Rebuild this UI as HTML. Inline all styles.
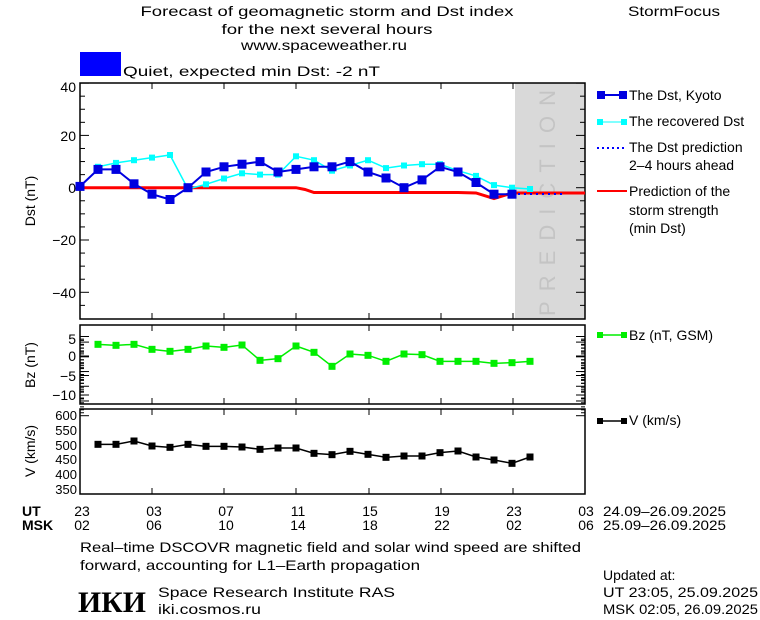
<!DOCTYPE html>
<html><head><meta charset="utf-8">
<style>
html,body{margin:0;padding:0;background:#fff;}
svg{display:block;}
text{font-family:"Liberation Sans","DejaVu Sans",sans-serif;font-size:14px;fill:#000;}
.s{font-size:13px;}
</style></head>
<body>
<svg id="c" width="760" height="620" viewBox="0 0 760 620" xmlns="http://www.w3.org/2000/svg">
<text x="327" y="16" text-anchor="middle" textLength="373" lengthAdjust="spacingAndGlyphs">Forecast of geomagnetic storm and Dst index</text>
<text x="327" y="34" text-anchor="middle" textLength="211" lengthAdjust="spacingAndGlyphs">for the next several hours</text>
<text x="324" y="50" text-anchor="middle" textLength="166" lengthAdjust="spacingAndGlyphs">www.spaceweather.ru</text>
<text x="628" y="16" textLength="92" lengthAdjust="spacingAndGlyphs">StormFocus</text>
<rect x="80" y="52" width="41" height="24" fill="#0000ff"/>
<text x="123" y="76" textLength="257" lengthAdjust="spacingAndGlyphs">Quiet, expected min Dst: -2 nT</text>

<!-- prediction region -->
<rect x="515" y="83" width="70" height="236" fill="#d9d9d9"/>
<text transform="translate(555,316) rotate(-90)" textLength="232" lengthAdjust="spacing" style="font-size:22px;fill:#c4c4c4;letter-spacing:6px">PREDICTION</text>

<g id="axes" stroke="#000" stroke-width="1.5" fill="none">
<rect x="80" y="83" width="505" height="236"/>
<rect x="80" y="325" width="505" height="79"/>
<rect x="80" y="409" width="505" height="85"/>
</g>
<g id="ticks" stroke="#000" stroke-width="1"></g>

<!-- Dst labels -->
<text x="76" y="92" text-anchor="end">40</text>
<text x="76" y="141" text-anchor="end">20</text>
<text x="76" y="193" text-anchor="end">0</text>
<text x="76" y="245" text-anchor="end">−20</text>
<text x="76" y="298" text-anchor="end">−40</text>
<text transform="translate(35,201) rotate(-90)" text-anchor="middle">Dst (nT)</text>
<!-- Bz labels -->
<text x="76" y="344" text-anchor="end">5</text>
<text x="76" y="361" text-anchor="end">0</text>
<text x="76" y="381" text-anchor="end">−5</text>
<text x="76" y="400" text-anchor="end">−10</text>
<text transform="translate(35,365) rotate(-90)" text-anchor="middle">Bz (nT)</text>
<!-- V labels -->
<text class="s" x="77" y="420" text-anchor="end">600</text>
<text class="s" x="77" y="435" text-anchor="end">550</text>
<text class="s" x="77" y="450" text-anchor="end">500</text>
<text class="s" x="77" y="464" text-anchor="end">450</text>
<text class="s" x="77" y="479" text-anchor="end">400</text>
<text class="s" x="77" y="494" text-anchor="end">350</text>
<text transform="translate(35,451) rotate(-90)" text-anchor="middle">V (km/s)</text>

<!-- series top -->
<polyline fill="none" stroke="#ff0000" stroke-width="3" points="80,187.7 296,187.7 305,189.5 314,192.5 458,192.5 476,193 494,198.5 512,193 585,193"/>
<polyline id="cy" fill="none" stroke="#00ffff" stroke-width="1.5" points="98,166.8 116,162.9 134,160.2 152,157.6 170,155 188,189 206,184.3 224,178.5 242,173.3 260,174.6 278,174.6 296,156.3 314,160.2 332,170.7 350,165.5 368,160.2 386,168.1 404,165.5 422,164.2 440,164.2 458,170.7 476,175.9 494,185.1 512,187.7 530,189"/>
<line x1="512" y1="194" x2="565" y2="194" stroke="#0000ff" stroke-width="2" stroke-dasharray="2,4"/>
<polyline id="db" fill="none" stroke="#0000e0" stroke-width="2" points="80,186.4 98,169.4 116,169.4 134,183.8 152,194.2 170,199.5 188,187.7 206,172 224,166.8 242,164.2 260,161.6 278,172 296,169.4 314,166.8 332,166.8 350,161.6 368,172 386,178 404,187.7 422,179.9 440,166.8 458,172 476,182.5 494,194.2 512,194.2"/>
<polyline id="bz" fill="none" stroke="#00ee00" stroke-width="1.5" points=""/>
<polyline id="vv" fill="none" stroke="#000" stroke-width="1.5" points=""/>
<g id="marks"></g>

<!-- legend -->
<line x1="597" y1="95" x2="627" y2="95" stroke="#0000e0" stroke-width="2"/>
<rect x="597" y="91" width="8" height="8" fill="#0000e0"/><rect x="619" y="91" width="8" height="8" fill="#0000e0"/>
<text x="629" y="100">The Dst, Kyoto</text>
<line x1="597" y1="122" x2="627" y2="122" stroke="#00ffff" stroke-width="1"/>
<rect x="597" y="119" width="6" height="6" fill="#00ffff"/><rect x="621" y="119" width="6" height="6" fill="#00ffff"/>
<text x="629" y="126">The recovered Dst</text>
<line x1="597" y1="148" x2="627" y2="148" stroke="#0000ff" stroke-width="2" stroke-dasharray="2,3"/>
<text x="629" y="152">The Dst prediction</text>
<text x="629" y="170">2–4 hours ahead</text>
<line x1="597" y1="191" x2="627" y2="191" stroke="#ff0000" stroke-width="2"/>
<text x="629" y="196">Prediction of the</text>
<text x="629" y="215">storm strength</text>
<text x="629" y="233">(min Dst)</text>
<line x1="597" y1="335" x2="627" y2="335" stroke="#00ee00" stroke-width="1.5"/>
<rect x="597" y="332" width="6" height="6" fill="#00ee00"/><rect x="621" y="332" width="6" height="6" fill="#00ee00"/>
<text x="629" y="340">Bz (nT, GSM)</text>
<line x1="597" y1="421" x2="627" y2="421" stroke="#000" stroke-width="1.5"/>
<rect x="597" y="418" width="6" height="6" fill="#000"/><rect x="621" y="418" width="6" height="6" fill="#000"/>
<text x="629" y="425">V (km/s)</text>

<!-- time axis -->
<text x="22" y="516" style="font-weight:bold">UT</text>
<text x="22" y="530" style="font-weight:bold">MSK</text>
<g text-anchor="middle">
<text x="82" y="516">23</text><text x="154" y="516">03</text><text x="226" y="516">07</text><text x="298" y="516">11</text><text x="370" y="516">15</text><text x="442" y="516">19</text><text x="514" y="516">23</text><text x="586" y="516">03</text>
<text x="82" y="530">02</text><text x="154" y="530">06</text><text x="226" y="530">10</text><text x="298" y="530">14</text><text x="370" y="530">18</text><text x="442" y="530">22</text><text x="514" y="530">02</text><text x="586" y="530">06</text>
</g>
<text x="603" y="516" textLength="123" lengthAdjust="spacingAndGlyphs">24.09–26.09.2025</text>
<text x="603" y="530" textLength="123" lengthAdjust="spacingAndGlyphs">25.09–26.09.2025</text>

<text x="80" y="552" textLength="501" lengthAdjust="spacingAndGlyphs">Real–time DSCOVR magnetic field and solar wind speed are shifted</text>
<text x="80" y="570" textLength="340" lengthAdjust="spacingAndGlyphs">forward, accounting for L1–Earth propagation</text>
<text x="78" y="612" style="font-family:'Liberation Serif',serif;font-weight:bold;font-size:30px" textLength="68" lengthAdjust="spacingAndGlyphs">ИКИ</text>
<text x="158" y="597" textLength="237" lengthAdjust="spacingAndGlyphs">Space Research Institute RAS</text>
<text x="158" y="614" textLength="103" lengthAdjust="spacingAndGlyphs">iki.cosmos.ru</text>
<text x="603" y="580">Updated at:</text>
<text x="603" y="597" textLength="155" lengthAdjust="spacingAndGlyphs">UT   23:05, 25.09.2025</text>
<text x="603" y="614" textLength="155" lengthAdjust="spacingAndGlyphs">MSK 02:05, 26.09.2025</text>
</svg>
<script>
(function(){
var NS="http://www.w3.org/2000/svg";
function el(p,t,a){var e=document.createElementNS(NS,t);for(var k in a)e.setAttribute(k,a[k]);p.appendChild(e);return e;}
var T=document.getElementById('ticks'),M=document.getElementById('marks');
function L(x1,y1,x2,y2){el(T,'line',{x1:x1,y1:y1,x2:x2,y2:y2});}
var px=[152,224,296,369,441,513];
var panels=[[83,319],[325,404],[409,494]];
panels.forEach(function(p){px.forEach(function(x){L(x,p[0],x,p[0]+6);L(x,p[1],x,p[1]-6);});});
for(var v=40;v>=-45;v-=5){var y=187.7-2.615*v;var len=(v%20==0)?9:5;L(80,y,80+len,y);L(585,y,585-len,y);}
for(var b=5;b>=-12;b--){var y=356-3.9*b;var len=(b%5==0)?9:4;L(80,y,80+len,y);L(585,y,585-len,y);}
for(var s=600;s>=340;s-=10){var y=415.7-(600-s)*0.2944;var len=(s%50==0)?9:4;L(80,y,80+len,y);L(585,y,585-len,y);}
var bzY=[73,76,73,88,94,88,78,82,75,121,116,78,97,139,102,106,124,102,104,124,124,124,130,128,124];
var vY=[373,373,363,378,382,373,379,379,381,388,384,384,400,404,394,403,412,408,408,398,393,411,420,430,411];
var bp=[],vp=[];
for(var i=0;i<25;i++){var x=98+18*i;bp.push(x+','+(320+bzY[i]/3));vp.push(x+','+(320+vY[i]/3));}
document.getElementById('bz').setAttribute('points',bp.join(' '));
document.getElementById('vv').setAttribute('points',vp.join(' '));
function marks(pts,sz,col){pts.trim().split(/\s+/).forEach(function(p){var a=p.split(',');el(M,'rect',{x:+a[0]-sz/2,y:+a[1]-sz/2,width:sz,height:sz,fill:col});});}
marks(document.getElementById('cy').getAttribute('points'),6,'#00ffff');
marks(document.getElementById('db').getAttribute('points'),9,'#0000e0');
marks(bp.join(' '),7,'#00ee00');
marks(vp.join(' '),7,'#000');
})();
</script>
</body></html>
